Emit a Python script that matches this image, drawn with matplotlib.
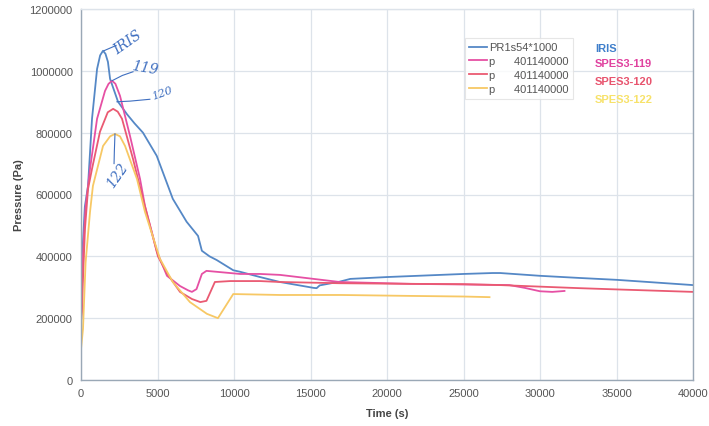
import matplotlib
matplotlib.use("Agg")
import matplotlib.pyplot as plt
from matplotlib.ticker import FuncFormatter

plt.rcParams['font.family'] = ['Liberation Sans', 'DejaVu Sans']

# IRIS pressure history
iris_t = [0, 100, 250, 460, 720, 1050, 1250, 1440, 1600, 1760, 1900, 2420, 3000, 3500,
          4050, 4950, 6000, 6500, 6900, 7650, 7900, 8400, 8870, 9950, 10400, 11700,
          13000, 15200, 15400, 15600, 16900, 17600, 20000, 21500, 25000, 26900,
          27400, 30000, 32600, 35000, 40000]
iris_p = [150000, 420000, 560000, 628000, 845000, 1006000, 1050000, 1065000, 1055000,
          1029000, 974000, 900000, 860000, 830000, 800000, 725000, 586000, 545000,
          512000, 466000, 418000, 400000, 388000, 355000, 350000, 333000, 317000,
          298000, 297000, 306000, 318000, 327000, 333000, 336000, 343000, 346000,
          346000, 337000, 330000, 324000, 307000]

# SPES3-119
s119_t = [0, 100, 300, 590, 1050, 1570, 1800, 2030, 2250, 2550, 3200, 3860, 4180,
          4970, 5620, 6470, 7000, 7250, 7550, 7900, 8200, 10400, 11700, 13000, 16900,
          21500, 25000, 28000, 29000, 30000, 30800, 31600]
s119_p = [200000, 380000, 560000, 683000, 845000, 935000, 958000, 968000, 958000,
          919000, 790000, 650000, 563000, 414000, 337000, 304000, 290000, 285000,
          294000, 343000, 353000, 343000, 343000, 340000, 317000, 311000, 309000,
          307000, 298000, 287000, 285000, 288000]

# SPES3-120
s120_t = [0, 65, 130, 260, 460, 720, 1240, 1750, 2100, 2400, 2680, 3400, 4050, 5030,
          5620, 6470, 7250, 7800, 8200, 8750, 9750, 11700, 13000, 16900, 21500,
          25000, 27400, 30000, 32600, 35000, 40000]
s120_p = [190000, 220000, 327000, 489000, 618000, 683000, 803000, 866000, 877000,
          868000, 845000, 715000, 586000, 400000, 345000, 285000, 262000, 252000,
          256000, 317000, 320000, 320000, 317000, 313000, 311000, 310000, 307000,
          302000, 297000, 293000, 285000]

# SPES3-122
s122_t = [0, 130, 300, 590, 780, 1440, 1900, 2220, 2550, 2880, 3660, 4180, 5160,
          6000, 7120, 8230, 8950, 9950, 13000, 17000, 21500, 25000, 26700]
s122_p = [100000, 165000, 380000, 544000, 628000, 757000, 788000, 796000, 788000,
          757000, 650000, 544000, 392000, 317000, 252000, 214000, 200000, 278000,
          275000, 275000, 272000, 270000, 268000]

legend_labels = ["PR1s54*1000", "p      401140000", "p      401140000", "p      401140000"]
series_names = ["IRIS", "SPES3-119", "SPES3-120", "SPES3-122"]

c_iris = "#5588c6"
c_119 = "#e650a4"
c_120 = "#ea5a72"
c_122 = "#f7c865"
name_colors = ["#3f7fcb", "#e0429f", "#e8546e", "#f7e26a"]

W, H = 709, 427
fig = plt.figure(figsize=(W / 100, H / 100), dpi=100)
ax = fig.add_axes([81 / W, (H - 381) / H, (693 - 81) / W, (381 - 10) / H])

lines = []
for t, p, c in [(iris_t, iris_p, c_iris), (s119_t, s119_p, c_119),
                (s120_t, s120_p, c_120), (s122_t, s122_p, c_122)]:
    ln, = ax.plot(t, p, color=c, lw=1.3, solid_joinstyle="round")
    lines.append(ln)

ax.set_xlim(0, 40000)
ax.set_ylim(0, 1200000)
ax.set_xticks(range(0, 40001, 5000))
ax.set_yticks(range(0, 1200001, 200000))
ax.yaxis.set_major_formatter(FuncFormatter(lambda v, _: f"{int(v)}"))
ax.xaxis.set_major_formatter(FuncFormatter(lambda v, _: f"{int(v)}"))
ax.grid(True, color="#dde3ea", lw=0.9)
ax.set_axisbelow(True)
for s in ax.spines.values():
    s.set_color("#9aa8b6")
    s.set_linewidth(1.0)
ax.spines['top'].set_color("#dde3ea")
ax.tick_params(colors="#555555", labelsize=8, length=0, pad=6)
ax.set_xlabel("Time (s)", fontsize=8, fontweight="bold", color="#444444", labelpad=7)
ax.set_ylabel("Pressure (Pa)", fontsize=8, fontweight="bold", color="#444444", labelpad=4)

leg = fig.legend(lines, legend_labels, loc="upper left",
                 bbox_to_anchor=(465 / W, 1 - 39 / H), fontsize=8,
                 frameon=True, fancybox=False, handlelength=1.6,
                 handletextpad=0.2, labelspacing=0.35, borderpad=0.4,
                 borderaxespad=0)
leg.get_frame().set_edgecolor("#e0e0e0")
leg.get_frame().set_linewidth(0.8)
for txt in leg.get_texts():
    txt.set_color("#555555")

for name, col, y in zip(series_names, name_colors, [49, 64, 82, 100]):
    fig.text(595 / W, 1 - y / H, name, color=col, fontsize=8, fontweight="bold",
             va="center", ha="left")

# hand-drawn style labels with leader lines
pen = "#3f6fc0"
hand = dict(color=pen, fontsize=10, family=["DejaVu Serif"], style="italic")
ax.plot([1500, 2290], [1065000, 1082000], color=pen, lw=0.8)
ax.text(3070, 1094000, "IRIS", rotation=35, ha="center", va="center", **hand)
ax.plot([2030, 2700, 3400], [968000, 985000, 997000], color=pen, lw=0.8)
ax.text(4150, 1010000, "119", rotation=-10, ha="center", va="center", **hand)
ax.plot([2350, 3200, 4500], [900000, 902000, 908000], color=pen, lw=0.8)
ax.text(5300, 929000, "120", rotation=20, ha="center", va="center", fontsize=8,
        color=pen, family=["DejaVu Serif"], style="italic")
ax.plot([2220, 2180, 2160], [796000, 740000, 700000], color=pen, lw=0.8)
ax.text(2350, 665000, "122", rotation=55, ha="center", va="center", **hand)

fig.savefig("out.png", dpi=100, facecolor="white")
